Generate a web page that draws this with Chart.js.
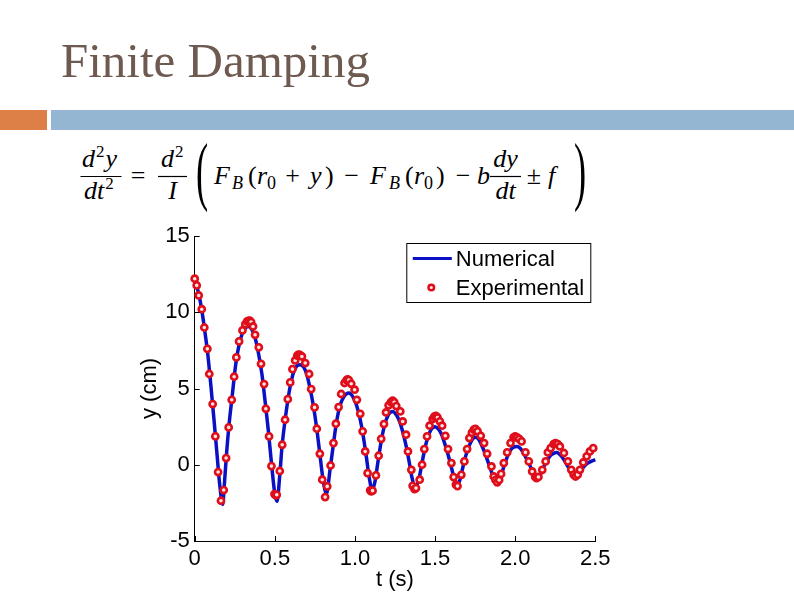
<!DOCTYPE html>
<html><head><meta charset="utf-8">
<script src="https://cdn.jsdelivr.net/npm/chart.js@4.4.0/dist/chart.umd.min.js"></script>
<style>
html,body{margin:0;padding:0;background:#fff;}
#wrap{position:relative;width:794px;height:595px;overflow:hidden;background:#fff;}
#title{position:absolute;left:61px;top:36px;font-family:"Liberation Serif",serif;font-size:49px;line-height:49px;color:#6e5a50;white-space:nowrap;}
#barO{position:absolute;left:0;top:110px;width:47px;height:20px;background:#dd8047;}
#barB{position:absolute;left:51px;top:110px;width:743px;height:20px;background:#94b6d2;}
#eq{position:absolute;left:0;top:0;}
#eq text{font-family:"Liberation Serif",serif;fill:#000;}
.it{font-style:italic;}
#c{position:absolute;left:0;top:0;}
</style></head>
<body><div id="wrap">
<div id="title">Finite Damping</div>
<div id="barO"></div><div id="barB"></div>
<svg id="eq" width="794" height="230" viewBox="0 0 794 230">
  <g font-size="26">
    <text x="82" y="167" class="it">d<tspan font-size="17" font-style="normal" dy="-10" dx="1">2</tspan><tspan dy="10" dx="1">y</tspan></text>
    <line x1="80.5" x2="121.5" y1="176.5" y2="176.5" stroke="#000" stroke-width="1.2"/>
    <text x="84" y="199" class="it">dt<tspan font-size="17" font-style="normal" dy="-10" dx="1">2</tspan></text>
    <text x="138" y="184" text-anchor="middle">=</text>
    <text x="161" y="167" class="it">d<tspan font-size="17" font-style="normal" dy="-10" dx="1">2</tspan></text>
    <line x1="158" x2="187" y1="176.5" y2="176.5" stroke="#000" stroke-width="1.2"/>
    <text x="172.5" y="199" text-anchor="middle" class="it">I</text>
    <text x="0" y="0" font-size="76" transform="translate(196,196) scale(0.48,1)">(</text>
    <text x="214" y="184" class="it">F</text>
    <text x="232" y="188.5" font-size="18" class="it">B</text>
    <text x="248" y="184">(</text>
    <text x="257" y="184" class="it">r</text>
    <text x="267" y="188.5" font-size="18">0</text>
    <text x="292.5" y="184" text-anchor="middle">+</text>
    <text x="310" y="184" class="it">y</text>
    <text x="325" y="184">)</text>
    <text x="351.7" y="184" text-anchor="middle">−</text>
    <text x="370" y="184" class="it">F</text>
    <text x="389" y="188.5" font-size="18" class="it">B</text>
    <text x="405" y="184">(</text>
    <text x="414" y="184" class="it">r</text>
    <text x="424" y="188.5" font-size="18">0</text>
    <text x="436" y="184">)</text>
    <text x="463" y="184" text-anchor="middle">−</text>
    <text x="477" y="184" class="it">b</text>
    <text x="505.5" y="167" text-anchor="middle" class="it">dy</text>
    <line x1="490" x2="521" y1="176.5" y2="176.5" stroke="#000" stroke-width="1.2"/>
    <text x="505.5" y="199" text-anchor="middle" class="it">dt</text>
    <text x="534" y="184" text-anchor="middle">±</text>
    <text x="548" y="184" class="it">f</text>
    <text x="0" y="0" font-size="76" transform="translate(574,196) scale(0.48,1)">)</text>
  </g>
</svg>
<canvas id="c" width="794" height="595"></canvas>
</div>
<script>
// Experimental data (t in s, y in cm)
const expT = [0.000,0.0125,0.025,0.044,0.060,0.079,0.091,0.112,0.129,0.146,0.164,0.181,0.196,0.212,0.231,0.246,0.260,0.277,0.298,0.316,0.327,0.335,0.343,0.352,0.364,0.377,0.400,0.414,0.433,0.444,0.464,0.479,0.498,0.505,0.512,0.531,0.546,0.564,0.581,0.596,0.610,0.627,0.640,0.648,0.656,0.669,0.690,0.714,0.727,0.748,0.762,0.781,0.796,0.814,0.827,0.848,0.866,0.881,0.898,0.914,0.935,0.948,0.954,0.962,0.977,0.998,1.012,1.033,1.048,1.064,1.079,1.095,1.102,1.110,1.131,1.148,1.164,1.181,1.194,1.210,1.225,1.235,1.245,1.258,1.283,1.298,1.319,1.331,1.352,1.360,1.372,1.381,1.404,1.419,1.433,1.450,1.466,1.485,1.495,1.505,1.515,1.530,1.544,1.564,1.581,1.602,1.616,1.630,1.640,1.664,1.683,1.700,1.714,1.730,1.742,1.752,1.765,1.785,1.806,1.825,1.852,1.866,1.877,1.888,1.900,1.912,1.929,1.950,1.971,1.990,2.000,2.012,2.025,2.040,2.064,2.085,2.106,2.125,2.133,2.145,2.169,2.190,2.204,2.221,2.240,2.252,2.265,2.279,2.304,2.329,2.350,2.365,2.377,2.390,2.404,2.425,2.446,2.466,2.487];
const expY = [12.2,11.76,11.1,10.2,9.0,7.6,5.95,3.98,1.86,-0.48,-2.36,-1.66,0.44,2.45,4.26,5.77,7.04,8.09,8.81,9.22,9.4,9.44,9.45,9.36,9.07,8.52,7.7,6.62,5.29,3.67,1.86,-0.09,-1.92,-2.0,-1.97,-0.41,1.31,2.95,4.3,5.4,6.27,6.84,7.15,7.22,7.2,7.1,6.67,5.95,4.96,3.76,2.36,0.72,-0.98,-2.12,-1.42,-0.05,1.42,2.69,3.78,4.64,5.36,5.55,5.6,5.55,5.31,4.92,4.26,3.34,2.19,0.87,-0.55,-1.68,-1.75,-1.7,-0.7,0.59,1.7,2.67,3.43,3.9,4.1,4.2,4.1,3.85,3.5,2.84,1.97,0.87,-0.33,-1.38,-1.6,-1.53,-0.98,0.0,1.03,1.86,2.56,3.0,3.15,3.2,3.1,2.85,2.56,1.9,1.03,0.11,-0.81,-1.3,-1.4,-0.66,0.22,1.03,1.75,2.1,2.3,2.35,2.2,1.9,1.42,0.72,-0.11,-0.77,-1.0,-1.15,-1.0,-0.6,0.11,0.81,1.42,1.8,1.86,1.8,1.7,1.53,0.81,0.22,-0.44,-0.8,-0.87,-0.8,-0.33,0.22,0.81,1.09,1.35,1.42,1.35,1.2,0.77,0.22,-0.33,-0.65,-0.77,-0.65,-0.33,0.15,0.55,0.87,1.09];
// Numerical solution
const numT = [0,0.025,0.045,0.06,0.08,0.10,0.12,0.14,0.155,0.175,0.185,0.20,0.215,0.235,0.255,0.28,0.31,0.335,0.36,0.38,0.40,0.42,0.44,0.46,0.48,0.50,0.514,0.53,0.545,0.565,0.59,0.615,0.635,0.658,0.68,0.70,0.72,0.74,0.76,0.78,0.80,0.822,0.845,0.865,0.885,0.905,0.93,0.962,0.99,1.01,1.03,1.05,1.07,1.09,1.108,1.125,1.145,1.165,1.185,1.21,1.235,1.26,1.28,1.30,1.32,1.34,1.355,1.375,1.395,1.415,1.435,1.455,1.475,1.50,1.52,1.54,1.56,1.58,1.60,1.62,1.638,1.655,1.675,1.695,1.715,1.735,1.752,1.77,1.79,1.81,1.83,1.85,1.87,1.89,1.91,1.93,1.95,1.97,1.99,2.01,2.03,2.05,2.07,2.09,2.11,2.135,2.16,2.18,2.20,2.22,2.24,2.26,2.28,2.30,2.32,2.34,2.36,2.38,2.40,2.42,2.44,2.46,2.48,2.50];
const numY = [12.2,11.2,10.1,9.0,7.4,5.3,3.0,0.6,-1.2,-2.6,-1.3,0.9,2.7,4.6,6.5,8.0,8.9,9.07,8.8,8.2,7.2,5.9,4.1,2.2,0.0,-1.9,-2.4,-0.8,1.2,3.0,4.8,6.0,6.45,6.56,6.4,5.9,5.0,3.9,2.5,0.8,-0.9,-1.9,-0.3,1.3,2.8,3.8,4.45,4.7,4.4,3.9,3.1,2.0,0.6,-0.9,-1.65,-1.1,0.3,1.6,2.6,3.3,3.5,3.25,2.8,2.1,1.2,0.1,-0.8,-1.45,-1.1,-0.1,1.0,1.8,2.3,2.5,2.35,2.0,1.4,0.7,-0.1,-0.9,-1.35,-1.0,-0.1,0.7,1.3,1.7,1.8,1.7,1.3,0.8,0.2,-0.4,-0.9,-1.1,-0.8,-0.1,0.5,0.95,1.15,1.2,1.1,0.8,0.4,0.0,-0.5,-0.9,-0.6,-0.1,0.3,0.6,0.75,0.8,0.65,0.4,0.05,-0.3,-0.6,-0.7,-0.55,-0.25,0.0,0.15,0.25,0.33];
const xTicks = [0,0.5,1,1.5,2,2.5];
const yTicks = [-5,0,5,10,15];
const seriesNames = ['Numerical','Experimental'];

const RED = 'rgb(222,14,26)';
const BLUE = '#0a10c4';
const FILL = 'rgba(255,226,226,1)';

Chart.defaults.font.family = '"Liberation Sans", Arial, sans-serif';
Chart.defaults.font.size = 22;
Chart.defaults.color = '#000';

const inTicks = {
  id: 'inTicks',
  afterDraw(chart) {
    const {ctx, scales: {x, y}, chartArea: a} = chart;
    ctx.save();
    ctx.strokeStyle = '#000'; ctx.lineWidth = 1;
    x.ticks.forEach(t => { const px = Math.round(x.getPixelForValue(t.value)) + 0.5;
      ctx.beginPath(); ctx.moveTo(px, a.bottom); ctx.lineTo(px, a.bottom - 5); ctx.stroke(); });
    y.ticks.forEach(t => { const py = Math.round(y.getPixelForValue(t.value)) + 0.5;
      ctx.beginPath(); ctx.moveTo(a.left, py); ctx.lineTo(a.left + 5, py); ctx.stroke(); });
    ctx.restore();
  }
};
const boxLegend = {
  id: 'boxLegend',
  afterDraw(chart) {
    const {ctx, chartArea: a} = chart;
    const r = a.right - 4.5, l = r - 184, t = a.top + 7.5, h = 59;
    ctx.save();
    ctx.fillStyle = '#fff'; ctx.fillRect(l, t, r - l, h);
    ctx.strokeStyle = '#000'; ctx.lineWidth = 1; ctx.strokeRect(l, t, r - l, h);
    ctx.strokeStyle = BLUE; ctx.lineWidth = 3;
    ctx.beginPath(); ctx.moveTo(l + 6, t + 15); ctx.lineTo(l + 45, t + 15); ctx.stroke();
    ctx.strokeStyle = RED; ctx.lineWidth = 2.5; ctx.fillStyle = FILL;
    ctx.beginPath(); ctx.arc(l + 24.5, t + 44, 2.8, 0, Math.PI * 2); ctx.fill(); ctx.stroke();
    ctx.fillStyle = '#000'; ctx.font = '22px "Liberation Sans", Arial, sans-serif';
    ctx.textBaseline = 'middle'; ctx.textAlign = 'left';
    ctx.fillText(seriesNames[0], l + 49, t + 16);
    ctx.fillText(seriesNames[1], l + 49, t + 45);
    ctx.restore();
  }
};

new Chart(document.getElementById('c'), {
  type: 'scatter',
  data: {
    datasets: [
      { label: seriesNames[1], data: expT.map((t, i) => ({x: t, y: expY[i]})),
        showLine: false, pointRadius: 3.1, pointBorderWidth: 2.6, borderColor: RED, backgroundColor: FILL, clip: false },
      { label: seriesNames[0], data: numT.map((t, i) => ({x: t, y: numY[i]})),
        showLine: true, pointRadius: 0, borderColor: BLUE, borderWidth: 3.5, cubicInterpolationMode: 'monotone', clip: false }
    ]
  },
  options: {
    responsive: false, animation: false, devicePixelRatio: 1,
    layout: { padding: { left: 133, top: 236, right: 198.7, bottom: 0 } },
    plugins: { legend: { display: false }, tooltip: { enabled: false } },
    scales: {
      x: { type: 'linear', min: 0, max: 2.5,
        afterBuildTicks: s => { s.ticks = xTicks.map(v => ({value: v})); },
        afterFit: s => { s.height = 54; },
        grid: { drawOnChartArea: false, drawTicks: false },
        border: { display: true, color: '#000', width: 1 },
        ticks: { padding: 5, maxRotation: 0, autoSkip: false, font: { size: 22 }, color: '#000' },
        title: { display: true, text: 't (s)', font: { size: 22 }, color: '#000', padding: { top: 0, bottom: 2 } } },
      y: { type: 'linear', min: -5, max: 15,
        afterBuildTicks: s => { s.ticks = yTicks.map(v => ({value: v})); },
        afterFit: s => { s.width = 194.7 - 133; },
        grid: { drawOnChartArea: false, drawTicks: false },
        border: { display: true, color: '#000', width: 1 },
        ticks: { padding: 5, autoSkip: false, font: { size: 22 }, color: '#000' },
        title: { display: true, text: 'y (cm)', font: { size: 22 }, color: '#000', padding: { top: 4, bottom: 0 } } }
    }
  },
  plugins: [inTicks, boxLegend]
});
</script>
</body></html>
